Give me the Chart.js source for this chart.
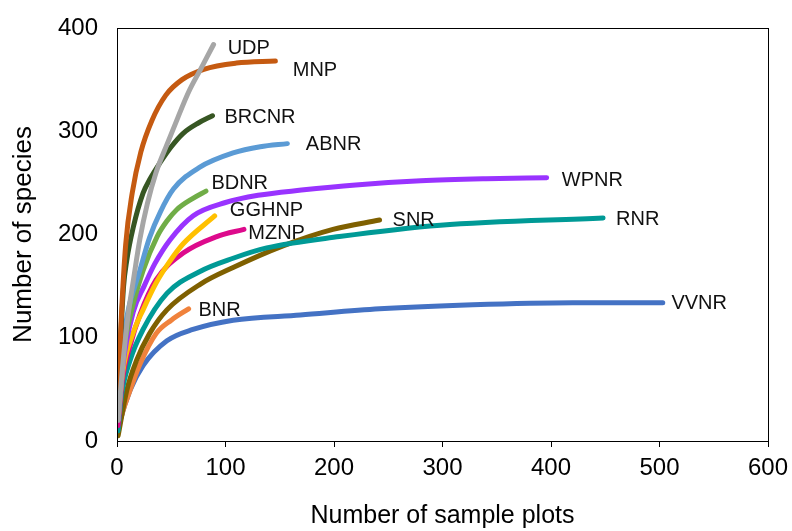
<!DOCTYPE html>
<html>
<head>
<meta charset="utf-8">
<script src="https://cdn.jsdelivr.net/npm/chart.js@4/dist/chart.umd.min.js"></script>
<style>
  html, body { margin: 0; padding: 0; background: #fff; }
  #wrap { width: 792px; height: 531px; }
</style>
</head>
<body>
<div id="wrap"><canvas id="c" width="792" height="531"></canvas></div>
<script>
// Species accumulation curves: [sample plots, species]
const UDP   = [[1,20],[5,70],[10,120],[15,155],[21,195],[28,230],[36,260],[46,287],[56,313],[66,338],[77,360],[89,384]];
const MNP   = [[1,45],[4,120],[8,190],[14,240],[22,280],[32,310],[45,335],[60,350],[80,360],[110,366],[146,368]];
const BRCNR = [[1,50],[6,149],[9,175],[15,207],[24,240],[30,253],[40,270],[50,285],[61,298],[75,308],[88,315]];
const ABNR  = [[1,30],[5,90],[10,125],[21,165],[30,197],[40,222],[52,244],[76,265],[107,279],[132,285],[157,288]];
const BDNR  = [[1,25],[5,80],[12,120],[24,165],[37,198],[46,213],[55,224],[70,235],[82,242]];
const WPNR  = [[1,20],[5,70],[15,125],[25,150],[35,172],[49,195],[70,218],[100,231],[130,238],[170,243],[220,248],[280,252],[340,254],[396,255]];
const GGHNP = [[1,20],[5,65],[15,105],[24,127],[36,153],[48,173],[61,191],[90,218]];
const MZNP  = [[1,15],[5,60],[12,92],[21,122],[36,156],[61,182],[92,198],[117,205]];
const RNR   = [[1,10],[4,43],[12,78],[24,108],[46,143],[76,164],[107,177],[138,187],[205,198],[298,209],[448,216]];
const SNR   = [[1,5],[9,49],[18,78],[30,104],[46,127],[77,152],[107,168],[153,189],[199,205],[242,214]];
const BNR   = [[1,10],[3,20],[12,49],[21,74],[36,104],[50,117],[66,128]];
const VVNR  = [[1,10],[3,20],[12,49],[24,73],[46,97],[70,108],[107,117],[169,122],[242,128],[328,132],[420,134],[503,134]];

const seriesNames  = ['UDP','MNP','BRCNR','ABNR','BDNR','WPNR','GGHNP','MZNP','RNR','SNR','BNR','VVNR'];
const seriesData   = [UDP, MNP, BRCNR, ABNR, BDNR, WPNR, GGHNP, MZNP, RNR, SNR, BNR, VVNR];
const seriesColors = ['#A6A6A6','#C55A11','#375623','#5B9BD5','#70AD47','#9933FF','#FFC000','#DD0A8C','#009A96','#7F6000','#F0823C','#4472C4'];

// where each name sits (data units, left edge / middle)
const labelX = [102, 162, 99, 174, 87, 410, 104, 121, 460, 254, 75, 511];
const labelY = [380, 359, 313, 287, 249, 252, 223, 201, 215, 214, 126, 133];

const xTicks = [0, 100, 200, 300, 400, 500, 600];
const yTicks = [0, 100, 200, 300, 400];

const FONT = '"Liberation Sans", Arial, sans-serif';

const frame = {
  id: 'frame',
  afterDraw(chart) {
    const { ctx, chartArea: a } = chart;
    ctx.save();
    ctx.strokeStyle = '#000';
    ctx.lineWidth = 1;
    ctx.strokeRect(a.left + 0.5, a.top + 0.5, a.right - a.left, a.bottom - a.top);
    ctx.restore();
  }
};

const names = {
  id: 'names',
  afterDatasetsDraw(chart) {
    const { ctx, scales } = chart;
    ctx.save();
    ctx.font = '20px ' + FONT;
    ctx.fillStyle = '#111';
    ctx.textBaseline = 'middle';
    ctx.textAlign = 'left';
    seriesNames.forEach((n, i) => {
      ctx.fillText(n, scales.x.getPixelForValue(labelX[i]), scales.y.getPixelForValue(labelY[i]));
    });
    ctx.restore();
  }
};

new Chart(document.getElementById('c'), {
  type: 'line',
  data: {
    datasets: seriesNames.map((n, i) => ({
      label: n,
      data: seriesData[i].map(p => ({ x: p[0], y: p[1] })),
      borderColor: seriesColors[i],
      borderWidth: 5,
      borderCapStyle: 'round',
      borderJoinStyle: 'round',
      pointRadius: 0,
      fill: false,
      cubicInterpolationMode: 'monotone'
    }))
  },
  options: {
    responsive: false,
    animation: false,
    layout: { padding: { left: 0, right: 24, top: 28, bottom: 0 } },
    plugins: {
      legend: { display: false },
      tooltip: { enabled: false }
    },
    scales: {
      x: {
        type: 'linear',
        min: 0, max: 600,
        afterBuildTicks: ax => { ax.ticks = xTicks.map(v => ({ value: v })); },
        afterFit: ax => { ax.height = 90; ax.paddingLeft = 0; ax.paddingRight = 0; },
        grid: { drawOnChartArea: false, drawTicks: true, tickLength: 6, color: '#000' },
        border: { display: true, color: '#000' },
        ticks: { color: '#000', font: { family: FONT, size: 24 }, padding: 7, maxRotation: 0 },
        title: { display: true, text: 'Number of sample plots', color: '#000', font: { family: FONT, size: 25 }, padding: { top: 4, bottom: 0 } }
      },
      y: {
        type: 'linear',
        min: 0, max: 400,
        afterBuildTicks: ax => { ax.ticks = yTicks.map(v => ({ value: v })); },
        afterFit: ax => { ax.width = 117; ax.paddingTop = 0; ax.paddingBottom = 0; },
        grid: { drawOnChartArea: false, drawTicks: false, color: '#000' },
        border: { display: true, color: '#000' },
        ticks: { color: '#000', font: { family: FONT, size: 24 }, padding: 19 },
        title: { display: true, text: 'Number of species', color: '#000', font: { family: FONT, size: 26 }, padding: { top: 8, bottom: 0 } }
      }
    }
  },
  plugins: [frame, names]
});
</script>
</body>
</html>
